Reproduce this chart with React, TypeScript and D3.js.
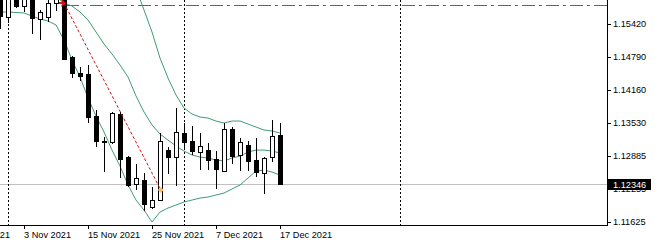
import React from "react";
import * as d3 from "d3";

// ---- data (EURUSD daily) ----
const dates = [
  "29 Oct", "1 Nov", "2 Nov", "3 Nov", "4 Nov", "5 Nov", "8 Nov", "9 Nov", "10 Nov", "11 Nov",
  "12 Nov", "15 Nov", "16 Nov", "17 Nov", "18 Nov", "19 Nov", "22 Nov", "23 Nov", "24 Nov", "25 Nov",
  "26 Nov", "29 Nov", "30 Nov", "1 Dec", "2 Dec", "3 Dec", "6 Dec", "7 Dec", "8 Dec", "9 Dec",
  "10 Dec", "13 Dec", "14 Dec", "15 Dec", "16 Dec", "17 Dec",
];
const opens = [
  1.1615, 1.15554, 1.1598, 1.15765, 1.1612, 1.15516, 1.15554, 1.15822, 1.159, 1.14787,
  1.14481, 1.14461, 1.13656, 1.13177, 1.13158, 1.13695, 1.1287, 1.12353, 1.12429, 1.11912,
  1.12046, 1.13004, 1.1287, 1.1333, 1.13177, 1.12966, 1.13004, 1.12832, 1.12602, 1.13407,
  1.12909, 1.131, 1.12813, 1.12564, 1.1287, 1.13292,
];
const highs = [
  1.1625, 1.1598, 1.16, 1.1595, 1.1616, 1.15688, 1.1588, 1.1607, 1.1593, 1.148,
  1.14596, 1.14634, 1.13771, 1.13254, 1.13733, 1.13733, 1.1289, 1.12736, 1.12564, 1.12295,
  1.1333, 1.13062, 1.1381, 1.13522, 1.13465, 1.1333, 1.13139, 1.12985, 1.13522, 1.13446,
  1.13235, 1.13177, 1.13235, 1.1287, 1.1358, 1.13522,
];
const lows = [
  1.15343, 1.15458, 1.15746, 1.15669, 1.15247, 1.15132, 1.15477, 1.15688, 1.1474, 1.14404,
  1.14346, 1.13541, 1.13081, 1.12602, 1.13139, 1.12487, 1.12314, 1.12257, 1.11854, 1.11893,
  1.12046, 1.12564, 1.12334, 1.13062, 1.12928, 1.1264, 1.1264, 1.12276, 1.12602, 1.12755,
  1.12621, 1.12621, 1.12506, 1.1218, 1.12794, 1.12346,
];
const closes = [
  1.1558, 1.1594, 1.15765, 1.1612, 1.15535, 1.1565, 1.15822, 1.1593, 1.14749, 1.14481,
  1.14423, 1.13637, 1.13177, 1.13158, 1.13714, 1.12832, 1.12334, 1.12468, 1.11969, 1.12046,
  1.13177, 1.1287, 1.1335, 1.13158, 1.12985, 1.13081, 1.12813, 1.1264, 1.13407, 1.12889,
  1.13158, 1.12794, 1.12583, 1.12851, 1.13273, 1.12346,
];

// Bollinger bands: [bar index, value]
const upperBand: [number, number][] = [
  [15, 1.1703], [16, 1.16551], [17, 1.1611], [18, 1.15688], [19, 1.15267], [20, 1.14768],
  [21, 1.14385], [22, 1.14059], [23, 1.1381], [24, 1.13695], [25, 1.13637], [26, 1.13618],
  [27, 1.1356], [28, 1.13522], [29, 1.1356], [30, 1.1356], [31, 1.13503], [32, 1.13445],
  [33, 1.13388], [34, 1.13369], [35, 1.1333],
];
const middleBand: [number, number][] = [
  [6, 1.16033], [7, 1.15938], [8, 1.15822], [9, 1.15765], [10, 1.1565], [11, 1.15497],
  [12, 1.15267], [13, 1.15037], [14, 1.14845], [15, 1.14634], [16, 1.14404], [17, 1.1404],
  [18, 1.13733], [19, 1.13484], [20, 1.13311], [21, 1.13196], [22, 1.13081], [23, 1.12985],
  [24, 1.12909], [25, 1.1287], [26, 1.12851], [27, 1.12813], [28, 1.12794], [29, 1.12851],
  [30, 1.12889], [31, 1.12966], [32, 1.13004], [33, 1.13004], [34, 1.12985], [35, 1.12947],
];
const lowerBand: [number, number][] = [
  [0, 1.1565], [1, 1.1565], [2, 1.1564], [3, 1.15631], [4, 1.15573], [5, 1.15516],
  [6, 1.15477], [7, 1.15401], [8, 1.15113], [9, 1.1473], [10, 1.14404], [11, 1.14003],
  [12, 1.13656], [13, 1.1335], [14, 1.13004], [15, 1.12698], [16, 1.12334], [17, 1.12046],
  [18, 1.11854], [19, 1.11624], [20, 1.11816], [21, 1.11893], [22, 1.1195], [23, 1.12008],
  [24, 1.12046], [25, 1.12084], [26, 1.12103], [27, 1.12142], [28, 1.1218], [29, 1.12257],
  [30, 1.12334], [31, 1.12468], [32, 1.12602], [33, 1.12621], [34, 1.12583], [35, 1.12525],
];

// trend line (bar index, price) and horizontal level
const trendLine: [number, number][] = [[8, 1.15822], [20.1, 1.12238]];
const levelStart = 8.3;
const levelPrice = 1.15784;
const lastPrice = 1.12346;

// period separators (bar index)
const separators = [1, 23, 50];

// axis ticks
const priceTicks = [1.1542, 1.1479, 1.1416, 1.1353, 1.12885, 1.12255, 1.11625];
const timeTickIdx = [-5, 3, 11, 19, 27, 35];
const timeTickLabels = ["22 Oct 2021", "3 Nov 2021", "15 Nov 2021", "25 Nov 2021", "7 Dec 2021", "17 Dec 2021"];

const W = 655;
const H = 243;
const PR = 607; // plot right
const PB = 225; // plot bottom

export default function App() {
  const x = d3.scaleLinear().domain([0, 35]).range([0, 280]);
  const y = d3.scaleLinear().domain([1.11625, 1.1542]).range([222, 24]);
  const font = "'Liberation Sans', Arial, sans-serif";
  const px = (v: number) => Math.round(v) + 0.5;

  const line = d3
    .line<[number, number]>()
    .x((d) => x(d[0]))
    .y((d) => y(d[1]));

  const bandColor = "#3f9c72";

  const diamond = (cx: number, cy: number, r: number) =>
    `M${cx},${cy - r}L${cx + r},${cy}L${cx},${cy + r}L${cx - r},${cy}Z`;
  const arrow = (cx: number, cy: number) =>
    `M${cx + 2},${cy}L${cx - 3},${cy - 4}L${cx - 2},${cy - 1}L${cx - 5},${cy - 1}L${cx - 5},${cy + 1}L${cx - 2},${cy + 1}L${cx - 3},${cy + 4}Z`;

  return (
    <svg
      width={W}
      height={H}
      style={{ position: "fixed", left: 0, top: 0, background: "#fff" }}
      shapeRendering="crispEdges"
    >
      <defs>
        <clipPath id="plot">
          <rect x={0} y={0} width={PR} height={PB} />
        </clipPath>
      </defs>
      <rect x={0} y={0} width={W} height={H} fill="#fff" />
      <g clipPath="url(#plot)">
        {/* current price line */}
        <line x1={0} x2={PR} y1={px(y(lastPrice))} y2={px(y(lastPrice))} stroke="#c0c0c0" />
        {/* period separators */}
        {separators.map((s) => (
          <line
            key={s}
            x1={px(x(s))}
            x2={px(x(s))}
            y1={0}
            y2={PB}
            stroke="#000"
            strokeDasharray="2,2"
          />
        ))}
        {/* horizontal level */}
        <line
          x1={x(levelStart)}
          x2={PR}
          y1={px(y(levelPrice))}
          y2={px(y(levelPrice))}
          stroke="#22902a"
          strokeDasharray="13,4,3,4"
        />
        {/* bollinger bands */}
        <g fill="none" stroke={bandColor} strokeWidth={1} shapeRendering="auto">
          <path d={line(upperBand) || ""} />
          <path d={line(middleBand) || ""} />
          <path d={line(lowerBand) || ""} />
        </g>
        {/* candles */}
        {dates.map((d, i) => {
          const o = opens[i];
          const c = closes[i];
          const bull = c > o;
          const cx = px(x(i));
          const top = Math.round(y(Math.max(o, c)));
          const bot = Math.round(y(Math.min(o, c)));
          return (
            <g key={d}>
              <line x1={cx} x2={cx} y1={Math.round(y(highs[i]))} y2={Math.round(y(lows[i])) + 1} stroke="#000" />
              <rect
                x={cx - 2}
                y={top + 0.5}
                width={4}
                height={Math.max(bot - top, 1)}
                fill={bull ? "#fff" : "#000"}
                stroke="#000"
              />
            </g>
          );
        })}
        {/* trend line */}
        <path
          d={line(trendLine) || ""}
          fill="none"
          stroke="#e01010"
          strokeDasharray="3,2"
          shapeRendering="auto"
        />
        <path
          d={arrow(x(trendLine[0][0]), y(trendLine[0][1]))}
          fill="#e01010"
          shapeRendering="auto"
        />
        <path
          d={diamond(x(trendLine[1][0]), y(trendLine[1][1]), 3)}
          fill="#f0c070"
          shapeRendering="auto"
        />
      </g>

      {/* axes */}
      <line x1={px(PR)} x2={px(PR)} y1={0} y2={PB + 1} stroke="#000" />
      <line x1={0} x2={PR + 1} y1={px(PB)} y2={px(PB)} stroke="#000" />

      {priceTicks.map((t) => (
        <g key={t}>
          <line x1={PR + 1} x2={PR + 4} y1={px(y(t))} y2={px(y(t))} stroke="#000" />
          <text
            x={613}
            y={y(t)}
            dy="0.35em"
            fontFamily={font}
            fontSize={9.2}
            fill="#000"
          >
            {t.toFixed(5)}
          </text>
        </g>
      ))}

      {/* last price label */}
      <rect x={608} y={Math.round(y(lastPrice)) - 5} width={43} height={11} fill="#000" />
      <text
        x={613}
        y={y(lastPrice)}
        dy="0.35em"
        fontFamily={font}
        fontSize={9.2}
        fill="#fff"
      >
        {lastPrice.toFixed(5)}
      </text>

      {timeTickIdx.map((t, i) => (
        <g key={t}>
          <line x1={px(x(t))} x2={px(x(t))} y1={PB + 1} y2={PB + 4} stroke="#000" />
          <text x={x(t)} y={238} fontFamily={font} fontSize={9.2} fill="#000">
            {timeTickLabels[i]}
          </text>
        </g>
      ))}
    </svg>
  );
}
